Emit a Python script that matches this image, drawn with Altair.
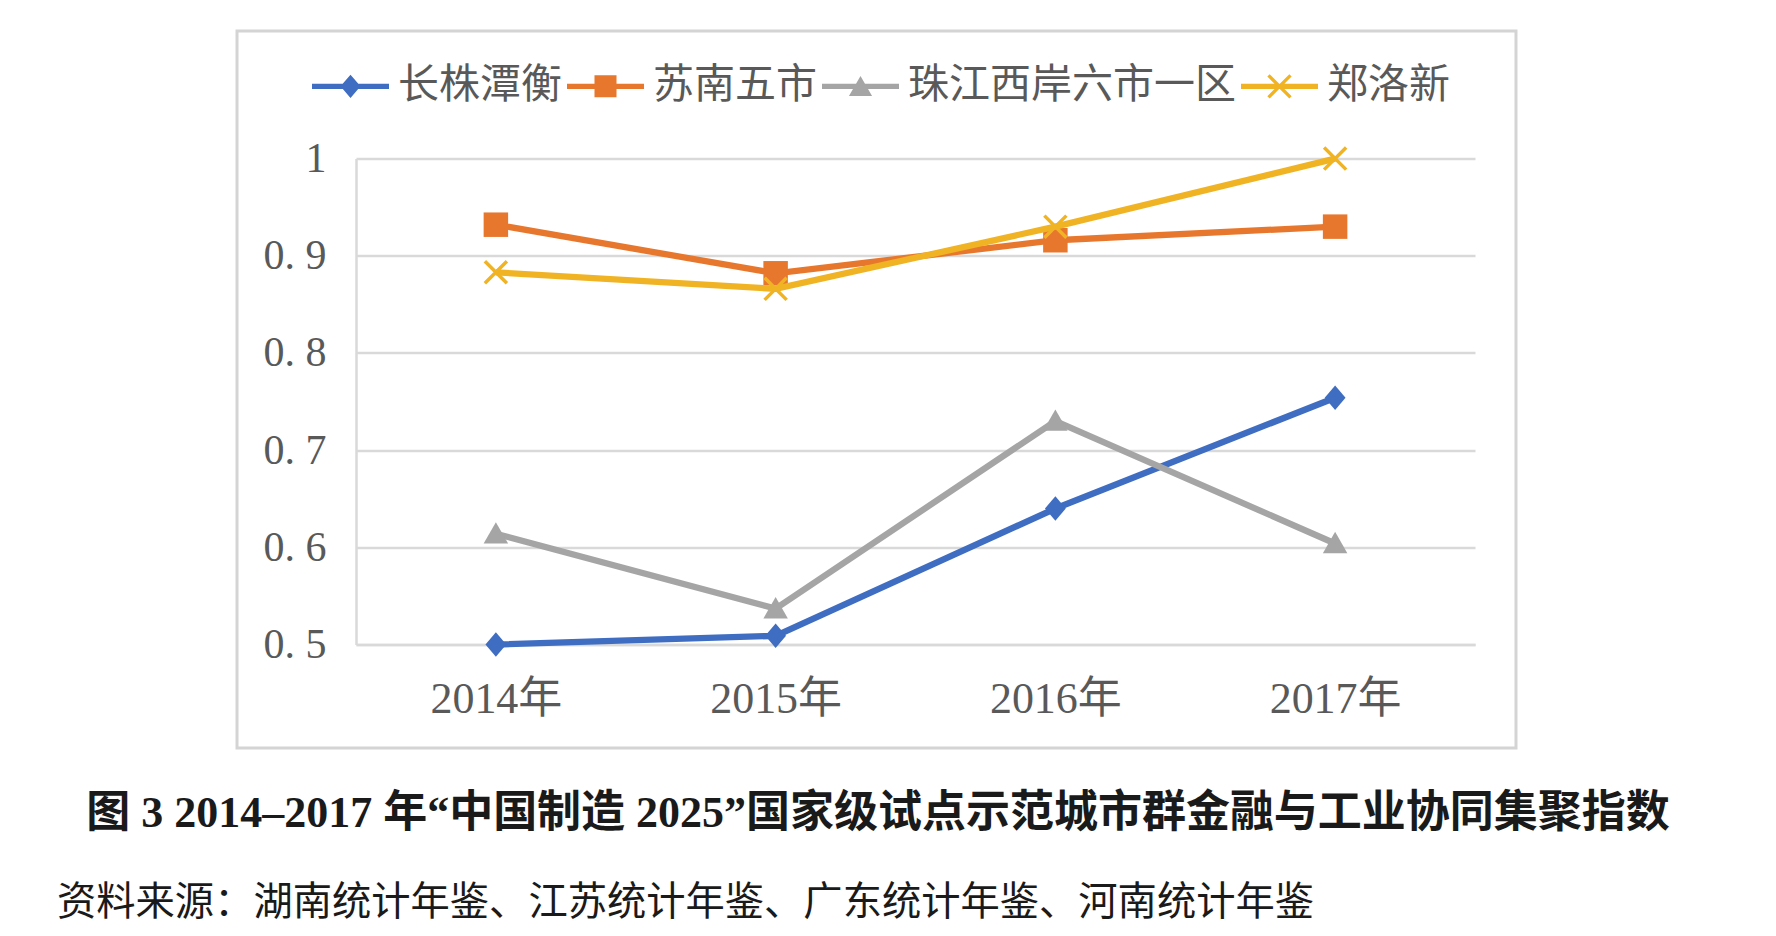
import altair as alt
import pandas as pd

# ---- data ----
years = ["2014年", "2015年", "2016年", "2017年"]
series_names = ["长株潭衡", "苏南五市", "珠江西岸六市一区", "郑洛新"]
cz_values = [0.500, 0.509, 0.640, 0.754]
sn_values = [0.932, 0.882, 0.916, 0.930]
zj_values = [0.614, 0.537, 0.730, 0.604]
zlx_values = [0.883, 0.866, 0.930, 1.000]
y_ticks = [0.5, 0.6, 0.7, 0.8, 0.9, 1.0]
title_text = "图 3 2014–2017 年“中国制造 2025”国家级试点示范城市群金融与工业协同集聚指数"
source_text = "资料来源：湖南统计年鉴、江苏统计年鉴、广东统计年鉴、河南统计年鉴"

series_values = [cz_values, sn_values, zj_values, zlx_values]
colors = ["#3E6DC1", "#E8772E", "#A5A5A5", "#F0B323"]

rows = []
for name, vals in zip(series_names, series_values):
    for yr, v in zip(years, vals):
        rows.append({"series": name, "year": yr, "value": v})
df = pd.DataFrame(rows)
one = pd.DataFrame({"k": [0]})

# marker shapes in plot
plot_shapes = [
    "M0,-1L0.85,0L0,1L-0.85,0Z",
    "M-1,-1L1,-1L1,1L-1,1Z",
    "M0,-0.95L1,0.8L-1,0.8Z",
    "M-0.8,-1L1,0.8L0.8,1L-1,-0.8Z M-0.8,1L-1,0.8L0.8,-1L1,-0.8Z",
]
line_part = "M-1,-0.07L1,-0.07L1,0.07L-1,0.07Z "
legend_paths = [
    line_part + "M0,-0.3L0.26,0L0,0.3L-0.26,0Z",
    line_part + "M-0.286,-0.286L0.286,-0.286L0.286,0.286L-0.286,0.286Z",
    line_part + "M0,-0.27L0.3,0.25L-0.3,0.25Z",
    line_part + "M-0.256,-0.316L0.316,0.256L0.256,0.316L-0.316,-0.256Z "
    "M-0.256,0.316L-0.316,0.256L0.256,-0.316L0.316,-0.256Z",
]

num_font = "Liberation Serif, Noto Sans CJK SC"
cjk_font = "Noto Sans CJK SC"
label_color = "#595959"
grid_color = "#d9d9d9"

x_enc = alt.X(
    "year:N", sort=years,
    axis=alt.Axis(title=None, labelAngle=0, labelFont=num_font, labelFontSize=44,
                  labelColor=label_color, labelPadding=33, ticks=False,
                  domainColor=grid_color, domainWidth=2.5, grid=False),
)
y_enc = alt.Y(
    "value:Q",
    scale=alt.Scale(domain=[0.5, 1.0], nice=False, zero=False),
    axis=alt.Axis(title=None, values=y_ticks,
                  labelExpr="datum.value == 1 ? '1' : replace(format(datum.value, '.1f'), '.', '. ')",
                  labelFont=num_font, labelFontSize=42, labelColor=label_color,
                  labelPadding=30, ticks=False, grid=True, gridColor=grid_color,
                  gridWidth=2.5, domain=True, domainColor=grid_color, domainWidth=2.5),
)
color_scale = alt.Scale(domain=series_names, range=colors)

layers = []
for i, name in enumerate(series_names):
    base = alt.Chart(df).transform_filter(alt.datum.series == name)
    line = base.mark_line(strokeWidth=6.3, color=colors[i]).encode(x=x_enc, y=y_enc)
    pts = base.mark_point(filled=True, shape=plot_shapes[i], size=600, opacity=1,
                          color=colors[i]).encode(x=x_enc, y=y_enc)
    layers += [line, pts]

leg = alt.Legend(title=None, orient="none", legendX=-44, legendY=-111, direction="horizontal",
                 symbolSize=5929, symbolStrokeWidth=0, symbolOpacity=1,
                 labelFont=cjk_font, labelFontSize=41, labelColor=label_color,
                 labelOffset=9, columnPadding=5, padding=0, labelLimit=1000)
legend_layer = alt.Chart(df).mark_point(filled=True, opacity=0, size=10).encode(
    x=x_enc, y=y_enc,
    color=alt.Color("series:N", scale=color_scale, legend=leg),
    shape=alt.Shape("series:N", scale=alt.Scale(domain=series_names, range=legend_paths), legend=leg),
)

frame = alt.Chart(one).mark_rect(fill="white", fillOpacity=0, stroke="#d4d4d4", strokeWidth=3).encode(
    x=alt.value(237 - 356), x2=alt.value(1516 - 356),
    y=alt.value(31 - 158.6), y2=alt.value(748 - 158.6),
)
title_layer = alt.Chart(one).mark_text(
    text=title_text, font=num_font, fontSize=44, fontWeight="bold",
    align="center", baseline="middle", color="#1a1a1a",
).encode(x=alt.value(878 - 356), y=alt.value(814 - 158.6))
source_layer = alt.Chart(one).mark_text(
    text=source_text, font=cjk_font, fontSize=39.3,
    align="left", baseline="middle", color="#1a1a1a",
).encode(x=alt.value(57 - 356), y=alt.value(903 - 158.6))

chart = alt.layer(frame, *layers, legend_layer, title_layer, source_layer).properties(
    width=1119, height=486,
    autosize=alt.AutoSizeParams(type="none"),
    padding={"left": 356, "top": 158.6, "right": 301, "bottom": 291.5},
    background="white",
).configure_view(strokeWidth=0)

chart.save("out.html", embed_options={"renderer": "svg", "actions": False})
